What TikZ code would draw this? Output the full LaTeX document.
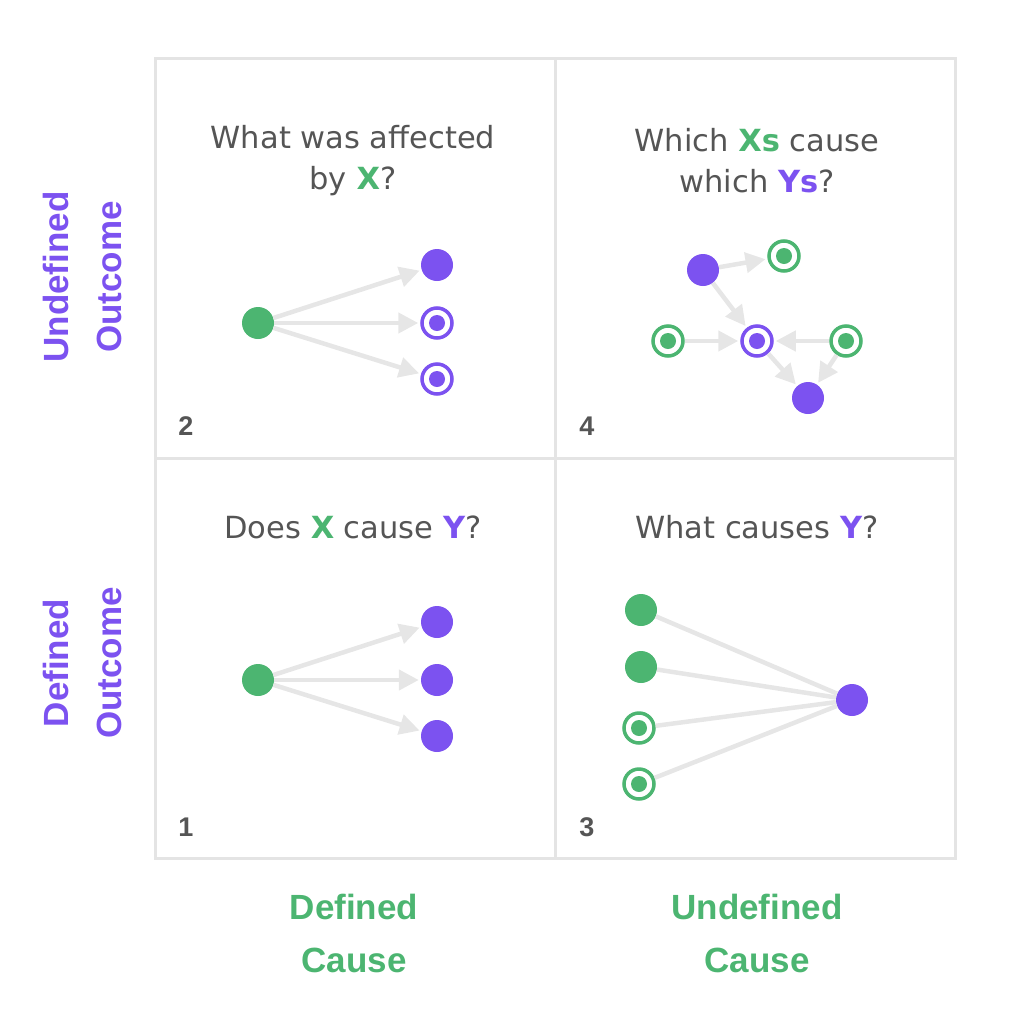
\documentclass[tikz,border=0pt]{standalone}
\usepackage{fontspec}
\setmainfont{Liberation Sans}
\newfontfamily\titlefont{DejaVu Sans}
\usetikzlibrary{arrows.meta, positioning}
\definecolor{qGreen}{RGB}{76,181,113}
\definecolor{qPurple}{RGB}{124,82,240}
\definecolor{qGrid}{RGB}{228,228,228}
\definecolor{qArrow}{RGB}{230,230,230}
\definecolor{qText}{RGB}{85,85,85}
\newcommand{\gx}[1]{\textcolor{qGreen}{\textbf{#1}}}
\newcommand{\py}[1]{\textcolor{qPurple}{\textbf{#1}}}

\begin{document}
\begin{tikzpicture}[x=1pt, y=-1pt,
    cell/.style={draw=qGrid, line width=3pt, minimum size=400pt, inner sep=0pt},
    title/.style={text=qText, font=\titlefont\fontsize{30.5}{41}\selectfont, align=center},
    num/.style={text=qText, font=\fontsize{27}{30}\selectfont\bfseries},
    axisx/.style={text=qGreen, font=\fontsize{35}{53}\selectfont\bfseries, align=center},
    axisy/.style={text=qPurple, font=\fontsize{35}{53}\selectfont\bfseries, align=center, rotate=90},
    dotg/.style={circle, fill=qGreen, minimum size=32pt, inner sep=0pt},
    dotp/.style={circle, fill=qPurple, minimum size=32pt, inner sep=0pt},
    ringg/.style={circle, draw=qGreen, line width=3.5pt, fill=white, minimum size=30pt, inner sep=0pt,
      path picture={\fill[qGreen] (path picture bounding box.center) circle (8pt);}},
    ringp/.style={circle, draw=qPurple, line width=3.5pt, fill=white, minimum size=30pt, inner sep=0pt,
      path picture={\fill[qPurple] (path picture bounding box.center) circle (8pt);}},
    link/.style={draw=qArrow, line width=4.5pt, -{Triangle[length=20pt,width=20pt]}, shorten >=2pt},
    tie/.style={draw=qArrow, line width=4.5pt}
  ]
  \useasboundingbox (0,0) rectangle (1020,1026);

  % grid
  \node[cell] (c2) at (355,258) {};
  \node[cell] (c4) at (755,258) {};
  \node[cell] (c1) at (355,658) {};
  \node[cell] (c3) at (755,658) {};

  % axis labels
  \node[axisx] (xdef) at (354,933) {Defined\\Cause};
  \node[axisx] (xund) at (757,933) {Undefined\\Cause};
  \node[axisy] (yund) at (82,277) {Undefined\\Outcome};
  \node[axisy] (ydef) at (82,663) {Defined\\Outcome};

  % quadrant 2
  \node[title] (t2) at (353,161) {What was affected\\by \gx{X}?};
  \node[num] (n2) at (186,426) {2};
  \node[dotg] (q2x) at (258,323) {};
  \node[dotp] (q2a) at (437,265) {};
  \node[ringp] (q2b) at (437,323) {};
  \node[ringp] (q2c) at (437,379) {};
  \draw[link] (q2x) -- (q2a);
  \draw[link] (q2x) -- (q2b);
  \draw[link] (q2x) -- (q2c);

  % quadrant 4
  \node[title] (t4) at (757,161) {Which \gx{Xs} cause\\which \py{Ys}?};
  \node[num] (n4) at (587,426) {4};
  \node[dotp] (q4a) at (703,270) {};
  \node[ringg] (q4b) at (784,256) {};
  \node[ringg] (q4c) at (668,341) {};
  \node[ringp] (q4d) at (757,341) {};
  \node[ringg] (q4e) at (846,341) {};
  \node[dotp] (q4f) at (808,398) {};
  \draw[link] (q4a) -- (q4b);
  \draw[link] (q4a) -- (q4d);
  \draw[link] (q4c) -- (q4d);
  \draw[link] (q4e) -- (q4d);
  \draw[link] (q4d) -- (q4f);
  \draw[link] (q4e) -- (q4f);

  % quadrant 1
  \node[title] (t1) at (353,527) {Does \gx{X} cause \py{Y}?};
  \node[num] (n1) at (186,827) {1};
  \node[dotg] (q1x) at (258,680) {};
  \node[dotp] (q1a) at (437,622) {};
  \node[dotp] (q1b) at (437,680) {};
  \node[dotp] (q1c) at (437,736) {};
  \draw[link] (q1x) -- (q1a);
  \draw[link] (q1x) -- (q1b);
  \draw[link] (q1x) -- (q1c);

  % quadrant 3
  \node[title] (t3) at (757,527) {What causes \py{Y}?};
  \node[num] (n3) at (587,827) {3};
  \node[dotp] (q3y) at (852,700) {};
  \node[dotg] (q3a) at (641,610) {};
  \node[dotg] (q3b) at (641,667) {};
  \node[ringg] (q3c) at (639,728) {};
  \node[ringg] (q3d) at (639,784) {};
  \draw[tie] (q3a) -- (q3y);
  \draw[tie] (q3b) -- (q3y);
  \draw[tie] (q3c) -- (q3y);
  \draw[tie] (q3d) -- (q3y);
\end{tikzpicture}
\end{document}
